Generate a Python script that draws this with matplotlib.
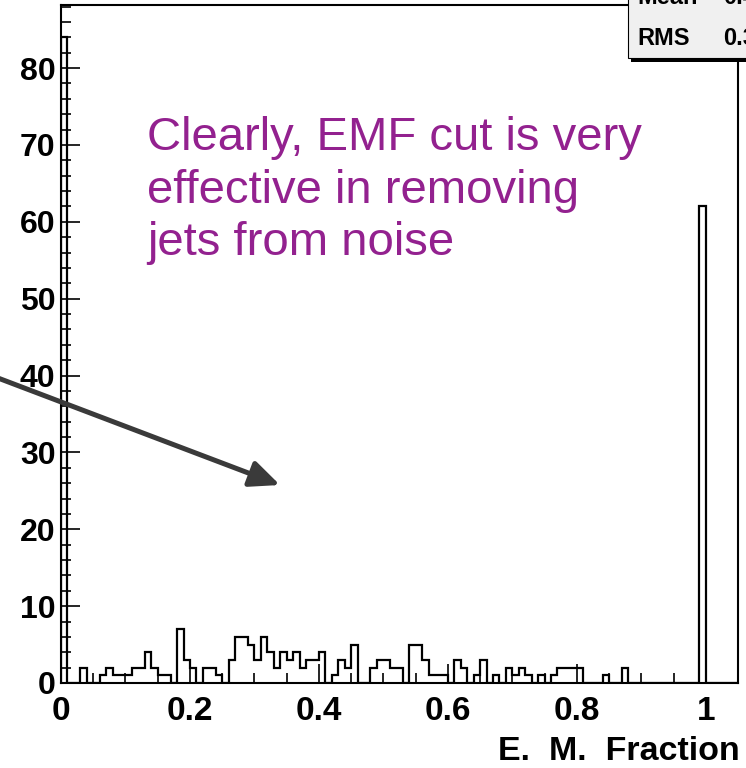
import matplotlib
matplotlib.use('Agg')
import matplotlib.pyplot as plt
import numpy as np
from matplotlib.ticker import MultipleLocator, FuncFormatter
from matplotlib.patches import Rectangle

plt.rcParams['font.family'] = ['Liberation Sans', 'DejaVu Sans']

# histogram of E.M. fraction, 105 bins of 0.01 from 0 to 1.05
bin_edges = np.round(np.linspace(0, 1.05, 106), 3)
counts = [84, 0, 0, 2, 0, 0, 1, 2, 1, 1,
          1, 2, 2, 4, 2, 1, 1, 0, 7, 3,
          2, 0, 2, 2, 1, 0, 3, 6, 6, 5,
          3, 6, 4, 2, 4, 3, 4, 2, 3, 3,
          4, 0, 1, 3, 2, 5, 0, 0, 2, 3,
          3, 2, 2, 0, 5, 5, 3, 1, 1, 1,
          0, 3, 2, 0, 1, 3, 0, 1, 0, 2,
          1, 2, 1, 0, 1, 0, 1, 2, 2, 2,
          2, 0, 0, 0, 1, 0, 0, 2, 0, 0,
          0, 0, 0, 0, 0, 0, 0, 0, 0, 62,
          0, 0, 0, 0, 0]
x_ticks = [0, 0.2, 0.4, 0.6, 0.8, 1.0]
y_ticks = [0, 10, 20, 30, 40, 50, 60, 70, 80]
note_lines = ['Clearly, EMF cut is very', 'effective in removing', 'jets from noise']

counts = np.array(counts, dtype=float)
centers = (bin_edges[:-1] + bin_edges[1:]) / 2
mean = np.sum(counts * centers) / counts.sum()
rms = np.sqrt(np.sum(counts * (centers - mean) ** 2) / counts.sum())

W, H = 746, 768
fig = plt.figure(figsize=(W / 100, H / 100), dpi=100)
ax = fig.add_axes([61 / W, 1 - 683 / H, (738 - 61) / W, (683 - 5) / H])

ax.stairs(counts, bin_edges, color='black', lw=1.6, baseline=0)
ax.set_xlim(0, 1.05)
ax.set_ylim(0, 88.2)

ax.set_xticks(x_ticks)
ax.set_yticks(y_ticks)
ax.xaxis.set_minor_locator(MultipleLocator(0.05))
ax.yaxis.set_minor_locator(MultipleLocator(2))
ax.xaxis.set_major_formatter(FuncFormatter(lambda v, p: f'{v:g}'))
ax.tick_params(which='both', direction='in', top=False, right=False, width=1.2)
ax.tick_params(which='major', length=14)
ax.tick_params(which='minor', length=7)
ax.tick_params(axis='x', pad=9, labelsize=24)
ax.tick_params(axis='y', pad=4, labelsize=23)
for lab in ax.get_xticklabels() + ax.get_yticklabels():
    lab.set_fontweight('bold')
for sp in ax.spines.values():
    sp.set_linewidth(1.5)

fig.text(740 / W, 1 - 752 / H, 'E.  M.  Fraction', ha='right', va='center',
         fontsize=24.5, fontweight='bold')

# purple note
for line, base in zip(note_lines, [150, 203, 255]):
    fig.text(147 / W, 1 - base / H, line, ha='left', va='baseline',
             fontsize=34, color='#93218F')

# arrow
ax.annotate('', xy=(280, H - 485), xycoords='figure pixels',
            xytext=(-10, H - 375), textcoords='figure pixels',
            annotation_clip=False,
            arrowprops=dict(arrowstyle='-|>,head_length=0.9,head_width=0.4',
                            mutation_scale=20, lw=3.6, color='#3a3a3a',
                            shrinkA=0, shrinkB=0))

# stats box (cut off at top right)
fig.add_artist(Rectangle((631 / W, 1 - 62 / H), 200 / W, 80 / H,
                         transform=fig.transFigure, facecolor='black',
                         edgecolor='none', zorder=10))
fig.add_artist(Rectangle((628 / W, 1 - 58 / H), 200 / W, 80 / H,
                         transform=fig.transFigure, facecolor='#f0f0f0',
                         edgecolor='black', lw=0.8, zorder=11))
fig.text(637 / W, 1 - 4 / H, 'Mean', ha='left', va='baseline', fontsize=17,
         fontweight='bold', zorder=12)
fig.text(723 / W, 1 - 4 / H, f'{mean:.4f}', ha='left', va='baseline', fontsize=17,
         fontweight='bold', zorder=12)
fig.text(637 / W, 1 - 45 / H, 'RMS', ha='left', va='baseline', fontsize=17,
         fontweight='bold', zorder=12)
fig.text(723 / W, 1 - 45 / H, f'{rms:.4f}', ha='left', va='baseline', fontsize=17,
         fontweight='bold', zorder=12)

fig.savefig('out.png', dpi=100, facecolor='white')
